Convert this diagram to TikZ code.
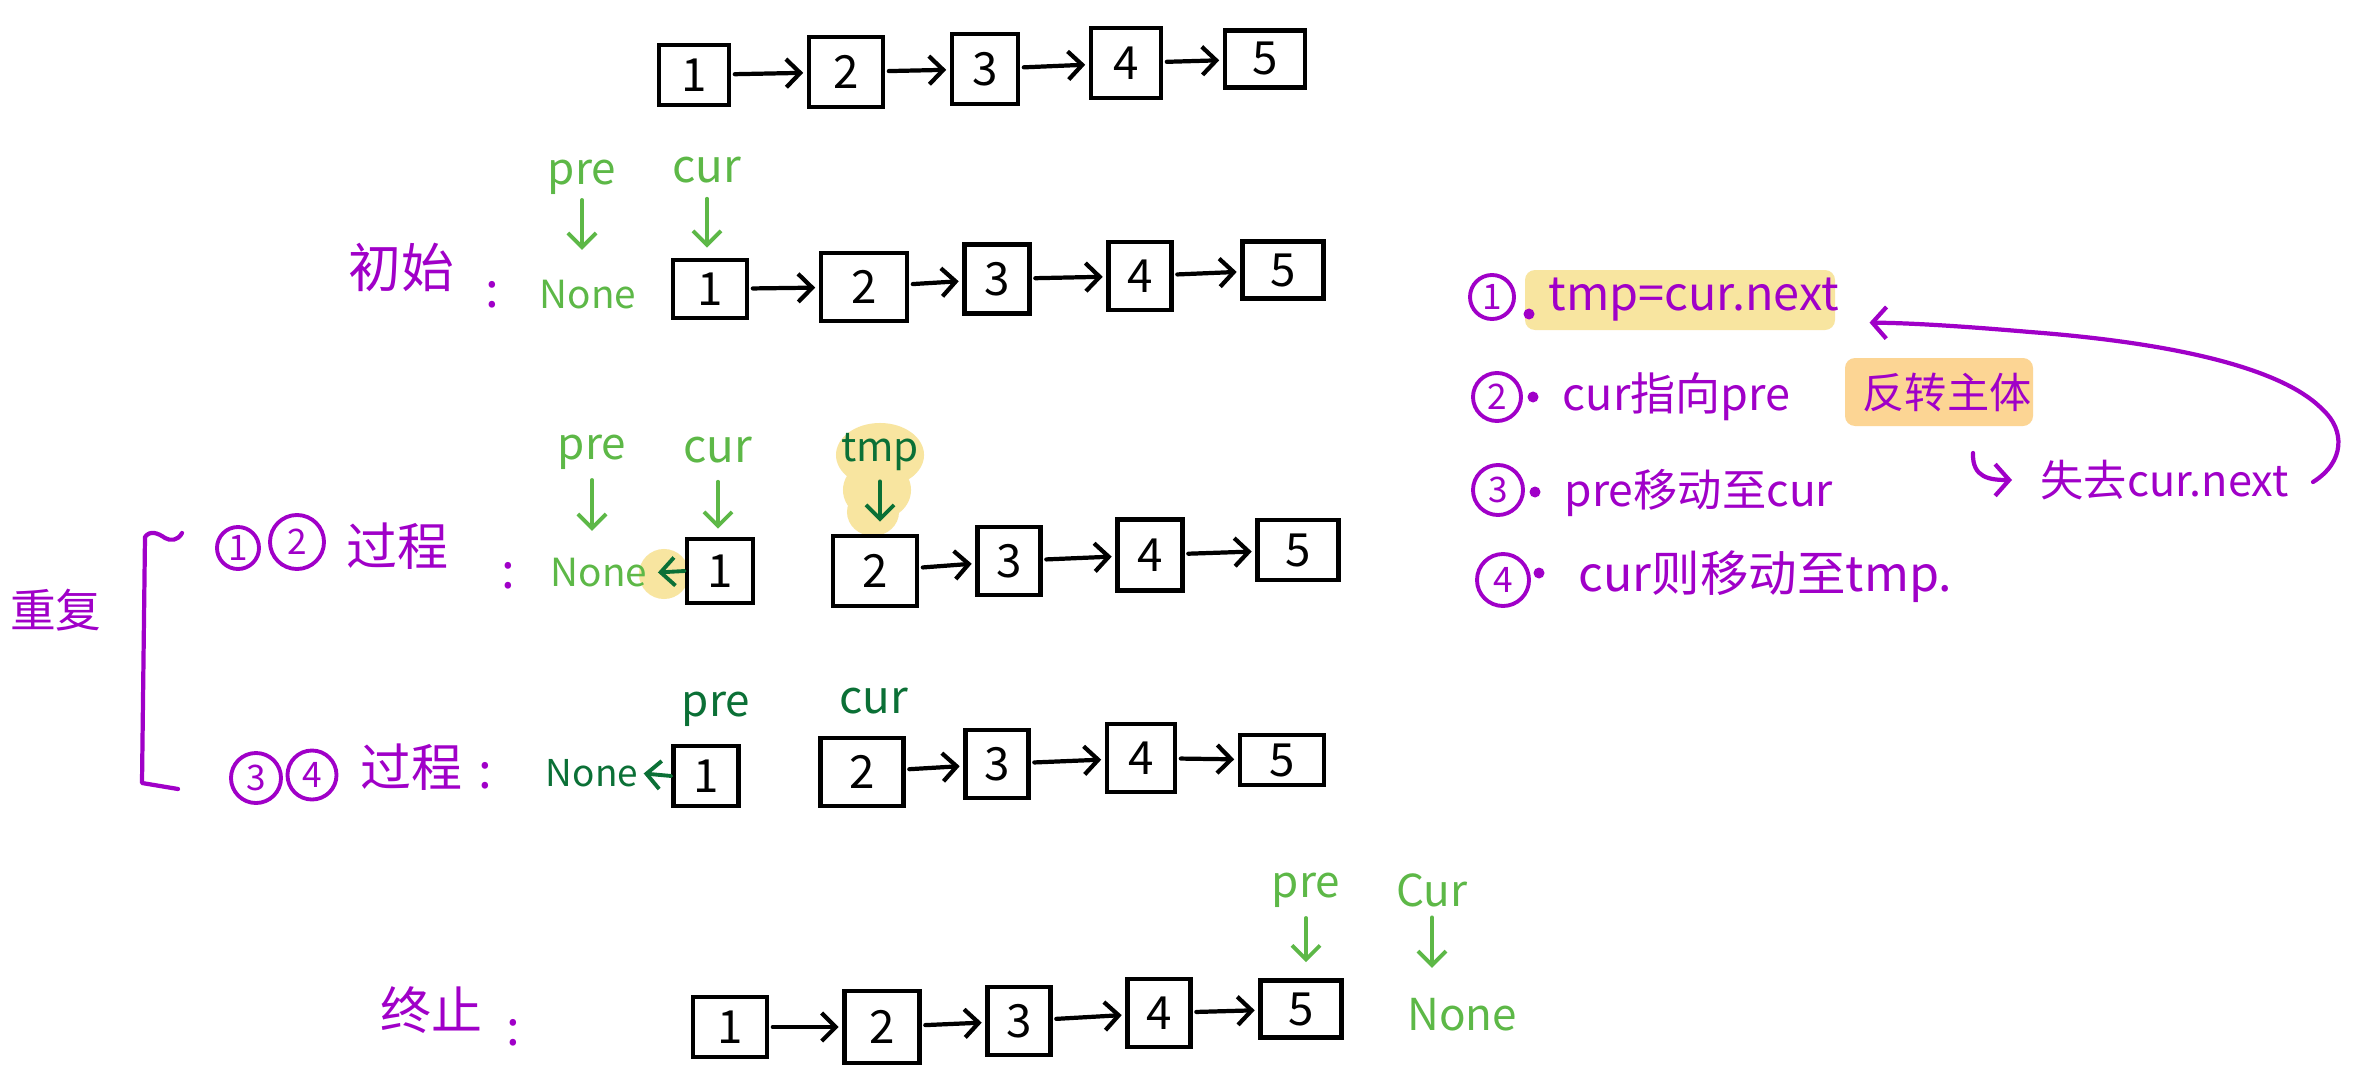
\documentclass[tikz,border=0pt]{standalone}
\usepackage{fontspec}
\setmainfont{Noto Sans CJK SC}
\usetikzlibrary{arrows.meta}
\definecolor{hpurple}{HTML}{A000C8}
\definecolor{lgreen}{HTML}{5DB847}
\definecolor{dgreen}{HTML}{0B7036}
\definecolor{hlyellow}{HTML}{F8E5A0}
\definecolor{hlorange}{HTML}{FCD594}
\newcommand{\myfs}[1]{\fontsize{#1}{#1}\selectfont}
\newcommand{\bx}[6]{\node[lbox, minimum width=#4*0.01cm, minimum height=#5*0.01cm] (#1) at (#2,#3) {#6};}
\begin{document}
\begin{tikzpicture}[x=0.01cm, y=-0.01cm,
  lbox/.style={draw=black, line width=1.3pt, inner sep=0pt, font=\myfs{13}},
  link/.style={draw=black, line width=1.2pt, line cap=round, -{Straight Barb[length=4pt,width=8pt]}, shorten <=1pt, shorten >=1pt},
  gptr/.style={draw=lgreen, line width=1.1pt, line cap=round, -{Straight Barb[length=4pt,width=8pt]}},
  dptr/.style={draw=dgreen, line width=1.1pt, line cap=round, -{Straight Barb[length=4pt,width=8pt]}},
  parrow/.style={draw=hpurple, line width=1.2pt, line cap=round, -{Straight Barb[length=4pt,width=9pt]}},
  glab/.style={text=lgreen, inner sep=0pt, font=\myfs{12.5}},
  dlab/.style={text=dgreen, inner sep=0pt, font=\myfs{12.5}},
  plab/.style={text=hpurple, inner sep=0pt, font=\myfs{14.5}},
  pcirc/.style={circle, draw=hpurple, line width=1.1pt, text=hpurple, inner sep=0pt, font=\myfs{10}},
  pdot/.style={circle, fill=hpurple, inner sep=0pt, minimum size=0.11cm}
]
\useasboundingbox (0,0) rectangle (2364,1088);
\fill[white] (0,0) rectangle (2364,1088);

% highlights
\fill[hlyellow, rounded corners=0.1cm] (1525,270) rectangle (1835,330);
\fill[hlorange, rounded corners=0.1cm] (1845,358) rectangle (2033,426);
\fill[hlyellow] (880,455) ellipse [x radius=0.44cm, y radius=0.32cm];
\fill[hlyellow] (877,490) ellipse [x radius=0.34cm, y radius=0.30cm];
\fill[hlyellow] (873,512) ellipse [x radius=0.26cm, y radius=0.24cm];
\fill[hlyellow] (664,574) circle [radius=0.25cm];

% row 0
\bx{a1}{694}{75}{70}{60}{1}
\bx{a2}{846}{72}{74}{70}{2}
\bx{a3}{985}{69}{66}{70}{3}
\bx{a4}{1126}{63}{70}{70}{4}
\bx{a5}{1265}{59}{80}{57}{5}
\draw[link] (a1) -- (a2);
\draw[link] (a2) -- (a3);
\draw[link] (a3) -- (a4);
\draw[link] (a4) -- (a5);

% row 1
\bx{b1}{710}{289}{74}{58}{1}
\bx{b2}{864}{287}{86}{68}{2}
\bx{b3}{997}{279}{65}{69}{3}
\bx{b4}{1140}{276}{63}{68}{4}
\bx{b5}{1283}{270}{81}{57}{5}
\draw[link] (b1) -- (b2);
\draw[link] (b2) -- (b3);
\draw[link] (b3) -- (b4);
\draw[link] (b4) -- (b5);
\node[plab, font=\myfs{15}] (init) at (401,267) {初始};
\node[plab, font=\myfs{14}] (col1) at (492,295) {:};
\node[glab, font=\myfs{11}] (none1) at (588,295) {None};
\node[glab] (pre1) at (582,177) {pre};
\node[glab, font=\myfs{13}] (cur1) at (707,170) {cur};
\draw[gptr, shorten <=0.05cm, shorten >=0.3cm] (pre1.south) -- (pre1.south |- none1.north);
\draw[gptr, shorten <=0.15cm, shorten >=0.1cm] (cur1.south) -- (cur1.south |- b1.north);

% row 2
\bx{c1}{720}{571}{66}{64}{1}
\bx{c2}{875}{571}{84}{70}{2}
\bx{c3}{1009}{561}{63}{68}{3}
\bx{c4}{1150}{555}{65}{71}{4}
\bx{c5}{1298}{550}{81}{60}{5}
\draw[link] (c2) -- (c3);
\draw[link] (c3) -- (c4);
\draw[link] (c4) -- (c5);
\node[plab, font=\myfs{13}] (rep) at (56,610) {重复};
\node[pcirc, minimum size=0.42cm] (s1) at (238,548) {1};
\node[pcirc, minimum size=0.54cm] (s2) at (297,542) {2};
\node[plab] (proc1) at (397,546) {过程};
\node[plab, font=\myfs{14}] (col2) at (508,576) {:};
\node[glab, font=\myfs{11}] (none2) at (599,573) {None};
\node[glab] (pre2) at (592,452) {pre};
\node[glab, font=\myfs{13}] (cur2) at (718,450) {cur};
\node[dlab, font=\myfs{11.5}] (tmp2) at (880,452) {tmp};
\draw[gptr, shorten <=0.1cm, shorten >=0.27cm] (pre2.south) -- (pre2.south |- none2.north);
\draw[gptr, shorten <=0.18cm, shorten >=0.08cm] (cur2.south) -- (cur2.south |- c1.north);
\draw[dptr, shorten <=0.1cm, shorten >=0.12cm] (tmp2.south) -- (tmp2.south |- c2.north);
\draw[dptr, shorten >=0.1cm] (c1.west) -- (none2.east);

% row 3
\bx{d1}{706}{776}{65}{60}{1}
\bx{d2}{862}{772}{83}{68}{2}
\bx{d3}{997}{764}{63}{68}{3}
\bx{d4}{1141}{758}{68}{68}{4}
\bx{d5}{1282}{760}{84}{50}{5}
\draw[link] (d2) -- (d3);
\draw[link] (d3) -- (d4);
\draw[link] (d4) -- (d5);
\node[pcirc, minimum size=0.50cm] (s3) at (256,778) {3};
\node[pcirc, minimum size=0.49cm] (s4) at (312,775) {4};
\node[plab] (proc2) at (411,767) {过程};
\node[plab, font=\myfs{14}] (col3) at (485,776) {:};
\node[dlab, font=\myfs{10.5}] (none3) at (592,773) {None};
\node[dlab] (pre3) at (716,709) {pre};
\node[dlab, font=\myfs{13}] (cur3) at (874,701) {cur};
\draw[dptr, shorten >=0.05cm] (d1.west) -- (none3.east);

% bracket
\draw[hpurple, line width=1.2pt, line cap=round, line join=round]
  (182,533) .. controls (178,541) and (170,541) .. (165,538)
  .. controls (158,533) and (150,530) .. (145,537)
  -- (142,783) -- (178,789);

% row 4
\bx{e1}{730}{1027}{74}{60}{1}
\bx{e2}{882}{1027}{75}{72}{2}
\bx{e3}{1019}{1021}{63}{68}{3}
\bx{e4}{1159}{1013}{63}{68}{4}
\bx{e5}{1301}{1009}{81}{57}{5}
\draw[link] (e1) -- (e2);
\draw[link] (e2) -- (e3);
\draw[link] (e3) -- (e4);
\draw[link] (e4) -- (e5);
\node[plab] (term) at (431,1010) {终止};
\node[plab, font=\myfs{14}] (col4) at (513,1033) {:};
\node[glab] (pre4) at (1306,890) {pre};
\node[glab, font=\myfs{12.5}] (cur4) at (1432,890) {Cur};
\node[glab, font=\myfs{12.5}] (none4) at (1462,1015) {None};
\draw[gptr, shorten <=0.1cm, shorten >=0.16cm] (pre4.south) -- (pre4.south |- e5.north);
\draw[gptr, shorten <=0.1cm, shorten >=0.3cm] (cur4.south) -- (cur4.south |- none4.north);

% right list
\node[pcirc, minimum size=0.44cm] (n1) at (1492,297) {1};
\node[pdot] (dot1) at (1529,314) {};
\node[plab, font=\myfs{13.3}, anchor=west] (t1) at (1548,300) {tmp=cur.next};
\node[pcirc, minimum size=0.48cm] (n2) at (1497,397) {2};
\node[pdot] (dot2) at (1533,397) {};
\node[plab, font=\myfs{12.8}, anchor=west] (t2) at (1562,397) {cur指向pre};
\node[plab, font=\myfs{12}] (t2b) at (1947,393) {反转主体};
\node[pcirc, minimum size=0.50cm] (n3) at (1498,490) {3};
\node[pdot] (dot3) at (1535,492) {};
\node[plab, font=\myfs{12.6}, anchor=west] (t3) at (1564,493) {pre移动至cur};
\node[pcirc, minimum size=0.52cm] (n4) at (1503,580) {4};
\node[pdot] (dot4) at (1539,573) {};
\node[plab, font=\myfs{13.8}, anchor=west] (t4) at (1578,577) {cur则移动至tmp.};
\node[plab, font=\myfs{12.3}, anchor=west] (lose) at (2040,480) {失去cur.next};
\coordinate (hookstart) at (1973,453);
\coordinate (curvestart) at (2313,482);
\draw[parrow, shorten >=0.28cm] (hookstart) .. controls (1972,478) and (1990,480) .. (lose.west);
\draw[parrow, shorten >=0.3cm] (curvestart) .. controls (2345,462) and (2345,430) .. (2323,410)
  .. controls (2290,375) and (2200,345) .. (2030,332)
  .. controls (1960,326) and (1910,323) .. (t1.south east);
\end{tikzpicture}
\end{document}
